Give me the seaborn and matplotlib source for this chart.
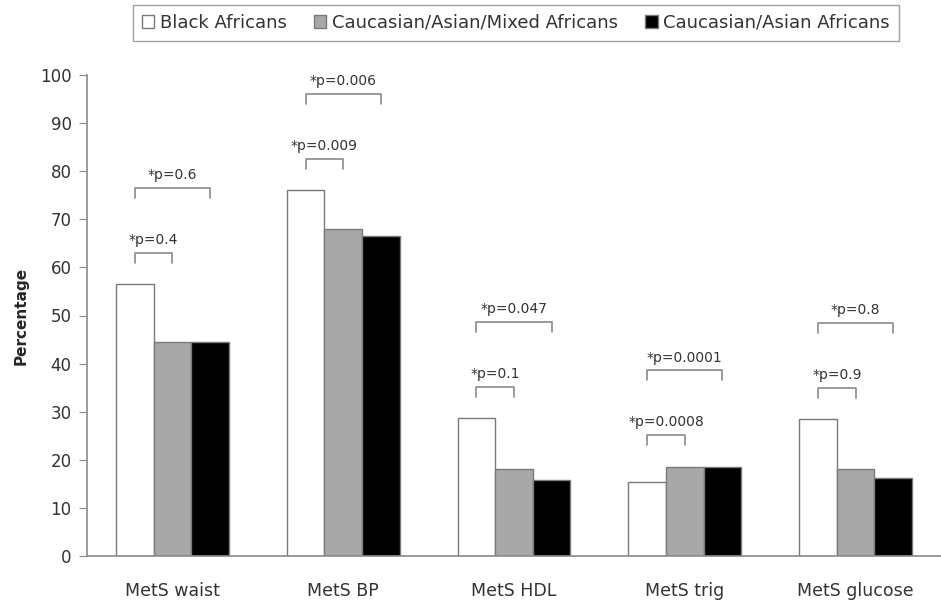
import matplotlib.pyplot as plt
import seaborn as sns
import pandas as pd

categories = ["MetS waist", "MetS BP", "MetS HDL", "MetS trig", "MetS glucose"]
groups = ["Black Africans", "Caucasian/Asian/Mixed Africans", "Caucasian/Asian Africans"]
black_africans = [56.5, 76.0, 28.6, 15.4, 28.4]
mixed_africans = [44.5, 67.9, 18.0, 18.6, 18.0]
caucasian_asian = [44.5, 66.5, 15.9, 18.6, 16.3]
p_vs_mixed = ["*p=0.4", "*p=0.009", "*p=0.1", "*p=0.0008", "*p=0.9"]
p_vs_caucasian = ["*p=0.6", "*p=0.006", "*p=0.047", "*p=0.0001", "*p=0.8"]
y_ticks = list(range(0, 101, 10))

bar_colors = ["white", "#a8a8a8", "black"]
line_grey = "#8a8a8a"
text_grey = "#333333"

sns.set_style("white")
plt.rcParams["font.family"] = ["DejaVu Sans"]

# long form for seaborn
rows = []
for g, vals in zip(groups, [black_africans, mixed_africans, caucasian_asian]):
    for c, v in zip(categories, vals):
        rows.append({"category": c, "group": g, "value": v})
df = pd.DataFrame(rows)

fig = plt.figure(figsize=(9.41, 6), dpi=100)
ax = fig.add_axes([87 / 941, 44 / 600, 854 / 941, 481 / 600])

sns.barplot(data=df, x="category", y="value", hue="group", order=categories,
            hue_order=groups, palette=bar_colors, width=0.66, edgecolor="#7a7a7a",
            linewidth=1, saturation=1, ax=ax)

ax.set_ylim(0, 100)
ax.set_xlim(-0.49, 4.47)
ax.set_yticks(y_ticks)
ax.set_xticks(range(len(categories)))
ax.set_xticklabels(categories)
ax.set_xticks([i - 0.5 for i in range(len(categories) + 1)], minor=True)
ax.tick_params(axis="x", which="major", length=0, pad=19, labelsize=12.5, labelcolor=text_grey)
ax.tick_params(axis="x", which="minor", length=5, color=line_grey, direction="out")
ax.tick_params(axis="y", length=6, color=line_grey, direction="out", left=True, pad=5,
               labelsize=12, labelcolor=text_grey)
ax.set_xlabel("")
ax.set_ylabel("Percentage", fontsize=11, fontweight="bold", labelpad=8)

sns.despine(ax=ax)
for side in ["left", "bottom"]:
    ax.spines[side].set_color(line_grey)
    ax.spines[side].set_linewidth(1.2)

# p-value brackets
for c in range(len(categories)):
    xs = [ax.containers[h][c].get_x() + ax.containers[h][c].get_width() / 2 for h in range(3)]
    near_y = max(black_africans[c], mixed_africans[c]) + 6.5
    far_y = max(black_africans[c], mixed_africans[c], caucasian_asian[c]) + 20
    for x_end, top, label in [(xs[1], near_y, p_vs_mixed[c]), (xs[2], far_y, p_vs_caucasian[c])]:
        ax.plot([xs[0], xs[0], x_end, x_end], [top - 2.1, top, top, top - 2.1],
                color=line_grey, lw=1.2)
        ax.text((xs[0] + x_end) / 2, top + 1.2, label, ha="center", va="bottom",
                fontsize=10, color=text_grey)

handles, labels = ax.get_legend_handles_labels()
ax.get_legend().remove()
leg = fig.legend(handles, labels, loc="center", bbox_to_anchor=(0.548, 0.962), ncol=3,
                 frameon=True, fancybox=False, edgecolor=line_grey, fontsize=13,
                 handlelength=0.7, handleheight=0.7, handletextpad=0.3, columnspacing=1.5,
                 borderpad=0.5)
leg.get_frame().set_linewidth(1)
for t in leg.get_texts():
    t.set_color(text_grey)

fig.savefig("out.png", dpi=100)
